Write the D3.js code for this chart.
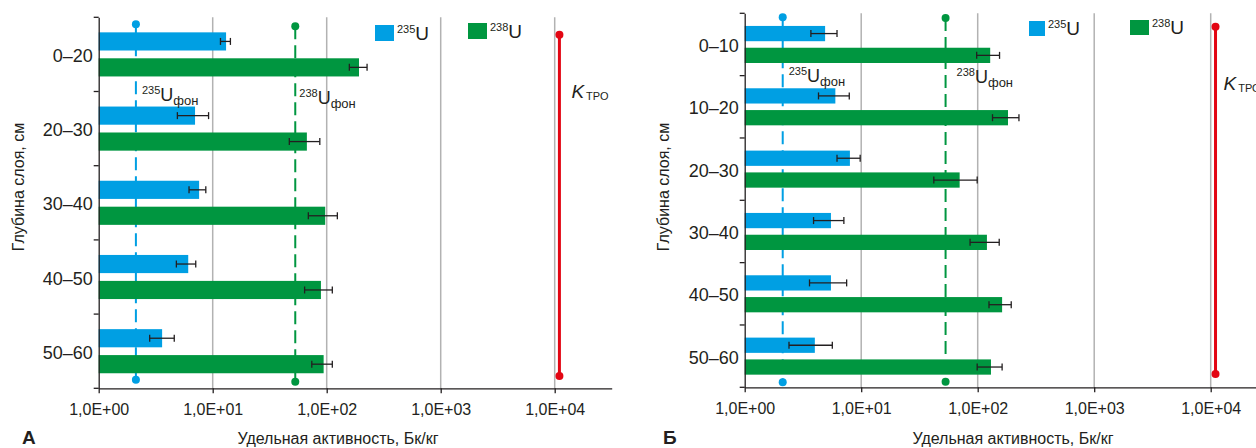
<!DOCTYPE html>
<html>
<head>
<meta charset="utf-8">
<script src="https://cdn.jsdelivr.net/npm/d3@7"></script>
<style>
  body { margin: 0; background: #fff; }
  svg { font-family: "Liberation Sans", Arial, sans-serif; }
</style>
</head>
<body>
<svg id="chart" width="1256" height="448"></svg>
<script>
// --- data ---
const tickValues = [1, 10, 100, 1000, 10000];
const tickLabels = ["1,0E+00", "1,0E+01", "1,0E+02", "1,0E+03", "1,0E+04"];

// panel A
const depthA = ["0–20", "20–30", "30–40", "40–50", "50–60"];
const u235A = [13.1, 7.0, 7.6, 6.1, 3.6];
const u235LoA = [11.7, 4.9, 6.2, 4.8, 2.8];
const u235HiA = [14.3, 9.2, 8.7, 7.1, 4.6];
const u238A = [192, 67, 97, 89, 94];
const u238LoA = [158, 47, 69, 64, 74];
const u238HiA = [226, 87, 124, 112, 112];

// panel Б
const depthB = ["0–10", "10–20", "20–30", "30–40", "40–50", "50–60"];
const u235B = [4.9, 6.0, 8.0, 5.5, 5.5, 4.0];
const u235LoB = [3.7, 4.3, 6.2, 3.9, 3.6, 2.4];
const u235HiB = [6.2, 7.9, 9.8, 7.1, 7.5, 5.65];
const u238B = [128, 182, 70, 120, 162, 130];
const u238LoB = [98, 134, 42, 86, 125, 99];
const u238HiB = [154, 226, 99, 153, 194, 162];

// background levels and limit
const u235Bg = 2.12;
const u238Bg = 53;
const kTro = 11000;

const BLUE = "#009fe3", GREEN = "#009640", RED = "#e30613", GRID = "#b2b2b2", INK = "#231f20";

const svg = d3.select("#chart");

function drawPanel(cfg) {
  const g = svg.append("g");
  const x = d3.scaleLog().domain([1, Math.pow(10, 4.5)])
    .range([cfg.x0, cfg.x0 + 4.5 * cfg.decade]);
  const y = d3.scaleBand().domain(cfg.depth).range([cfg.top, cfg.bottom]);
  const sub = d3.scaleBand().domain(["u235", "u238"]).range([0, y.bandwidth()])
    .paddingInner(0.3).paddingOuter(0.58);

  const rows = cfg.depth.map((d, i) => ({
    depth: d,
    u235: cfg.u235[i], u235Lo: cfg.u235Lo[i], u235Hi: cfg.u235Hi[i],
    u238: cfg.u238[i], u238Lo: cfg.u238Lo[i], u238Hi: cfg.u238Hi[i]
  }));

  // grid lines
  g.selectAll(".grid").data(tickValues.slice(1)).join("line")
    .attr("x1", d => x(d)).attr("x2", d => x(d))
    .attr("y1", cfg.top).attr("y2", cfg.bottom)
    .attr("stroke", GRID).attr("stroke-width", 1.5);

  // background dashed lines
  [[u235Bg, BLUE, cfg.dot235], [u238Bg, GREEN, cfg.dot238]].forEach(([v, c, dy]) => {
    g.append("line")
      .attr("x1", x(v)).attr("x2", x(v))
      .attr("y1", cfg.top + dy[0]).attr("y2", cfg.bottom - dy[1])
      .attr("stroke", c).attr("stroke-width", 2)
      .attr("stroke-dasharray", "13,6");
    g.append("circle").attr("cx", x(v)).attr("cy", cfg.top + dy[0]).attr("r", 4).attr("fill", c);
    g.append("circle").attr("cx", x(v)).attr("cy", cfg.bottom - dy[1]).attr("r", 4).attr("fill", c);
  });

  // bars
  const series = [
    { key: "u235", color: BLUE },
    { key: "u238", color: GREEN }
  ];
  series.forEach(s => {
    g.selectAll(".bar-" + s.key).data(rows).join("rect")
      .attr("x", x(1))
      .attr("y", d => y(d.depth) + sub(s.key))
      .attr("width", d => x(d[s.key]) - x(1))
      .attr("height", sub.bandwidth())
      .attr("fill", s.color);

    // error bars
    const eb = g.selectAll(".err-" + s.key).data(rows).join("g")
      .attr("transform", d => `translate(0,${y(d.depth) + sub(s.key) + sub.bandwidth() / 2})`);
    eb.append("line")
      .attr("x1", d => x(d[s.key + "Lo"])).attr("x2", d => x(d[s.key + "Hi"]))
      .attr("stroke", INK).attr("stroke-width", 1.3);
    ["Lo", "Hi"].forEach(k => {
      eb.append("line")
        .attr("x1", d => x(d[s.key + k])).attr("x2", d => x(d[s.key + k]))
        .attr("y1", -3.5).attr("y2", 3.5)
        .attr("stroke", INK).attr("stroke-width", 1.3);
    });
  });

  // K_TPO line
  g.append("line")
    .attr("x1", x(kTro)).attr("x2", x(kTro))
    .attr("y1", cfg.top + cfg.kInset[0]).attr("y2", cfg.bottom - cfg.kInset[1])
    .attr("stroke", RED).attr("stroke-width", 3);
  g.append("circle").attr("cx", x(kTro)).attr("cy", cfg.top + cfg.kInset[0]).attr("r", 4).attr("fill", RED);
  g.append("circle").attr("cx", x(kTro)).attr("cy", cfg.bottom - cfg.kInset[1]).attr("r", 4).attr("fill", RED);

  // x axis
  const xa = g.append("g")
    .attr("transform", `translate(0,${cfg.bottom})`)
    .call(d3.axisBottom(x).tickValues(tickValues)
      .tickFormat((d, i) => tickLabels[i]).tickSize(5).tickSizeOuter(0));
  xa.select(".domain").attr("stroke", INK).attr("stroke-width", 1.3);
  xa.selectAll(".tick line").attr("stroke", INK).attr("stroke-width", 1.3);
  xa.selectAll(".tick text").attr("fill", INK).style("font-size", "16px")
    .attr("dy", "1.2em");

  // y axis
  const ya = g.append("g")
    .attr("transform", `translate(${cfg.x0},0)`)
    .call(d3.axisLeft(y).tickSize(0).tickPadding(6).tickSizeOuter(0));
  ya.select(".domain").attr("stroke", INK).attr("stroke-width", 1.3);
  ya.selectAll(".tick text").attr("fill", INK).style("font-size", "18px")
    .attr("dy", "0.42em");
  const bounds = cfg.depth.map(d => y(d)).concat([cfg.bottom]);
  ya.selectAll(".bnd").data(bounds).join("line")
    .attr("x1", -5).attr("x2", 0)
    .attr("y1", d => d).attr("y2", d => d)
    .attr("stroke", INK).attr("stroke-width", 1.3);

  // axis titles
  g.append("text")
    .attr("transform", `translate(${cfg.yTitleX},187) rotate(-90)`)
    .attr("text-anchor", "middle").attr("fill", INK).style("font-size", "16px")
    .text("Глубина слоя, см");
  g.append("text")
    .attr("x", cfg.xTitleX).attr("y", 444)
    .attr("text-anchor", "middle").attr("fill", INK).style("font-size", "16px")
    .text("Удельная активность, Бк/кг");
  g.append("text")
    .attr("x", cfg.letterX).attr("y", 444)
    .attr("fill", INK).style("font-size", "19px").style("font-weight", "bold")
    .text(cfg.letter);

  // background labels
  const bgLabel = (v, iso, off) => {
    const t = g.append("text")
      .attr("x", x(v) + off[0]).attr("y", y(cfg.depth[1]) + off[1])
      .attr("fill", INK);
    t.append("tspan").attr("dy", -7).style("font-size", "11px").text(iso);
    t.append("tspan").attr("dy", 7).style("font-size", "18px").text("U");
    t.append("tspan").attr("dy", 4).style("font-size", "13px").text("фон");
  };
  bgLabel(u235Bg, "235", cfg.lab235);
  bgLabel(u238Bg, "238", cfg.lab238);

  // K label
  const kt = g.append("text")
    .attr("x", x(kTro) + cfg.kLab[0]).attr("y", cfg.kLab[1]).attr("fill", INK);
  kt.append("tspan").style("font-size", "19px").style("font-style", "italic").text("K");
  kt.append("tspan").attr("dx", 2).attr("dy", 2).style("font-size", "11px").text("ТРО");

  // legend
  cfg.legend.forEach(([iso, color, lx, ly, w, h]) => {
    g.append("rect").attr("x", lx).attr("y", ly).attr("width", w).attr("height", h).attr("fill", color);
    const t = g.append("text").attr("x", lx + w + 3).attr("y", ly + h - 1).attr("fill", INK);
    t.append("tspan").attr("dy", -7).style("font-size", "11px").text(iso);
    t.append("tspan").attr("dy", 7).style("font-size", "19px").text("U");
  });
}

drawPanel({
  depth: depthA, u235: u235A, u235Lo: u235LoA, u235Hi: u235HiA,
  u238: u238A, u238Lo: u238LoA, u238Hi: u238HiA,
  x0: 98.7, decade: 114, top: 17.3, bottom: 388.3,
  dot235: [7, 8.6], dot238: [9, 6.6], kInset: [17.4, 12.4],
  yTitleX: 24, xTitleX: 338, letter: "А", letterX: 22,
  lab235: [6, 9], lab238: [4, 12], kLab: [12, 98],
  legend: [["235", BLUE, 375, 25, 19, 16], ["238", GREEN, 468, 23, 19, 16]]
});

drawPanel({
  depth: depthB, u235: u235B, u235Lo: u235LoB, u235Hi: u235HiB,
  u238: u238B, u238Lo: u238LoB, u238Hi: u238HiB,
  x0: 744.7, decade: 116.5, top: 13.3, bottom: 387.3,
  dot235: [4, 5], dot238: [4.7, 5.6], kInset: [13.4, 13.3],
  yTitleX: 669, xTitleX: 1013, letter: "Б", letterX: 663,
  lab235: [6, 6.5], lab238: [11, 7.5], kLab: [8, 90],
  legend: [["235", BLUE, 1029, 21, 16, 15], ["238", GREEN, 1130, 20, 19, 15]]
});
</script>
</body>
</html>
